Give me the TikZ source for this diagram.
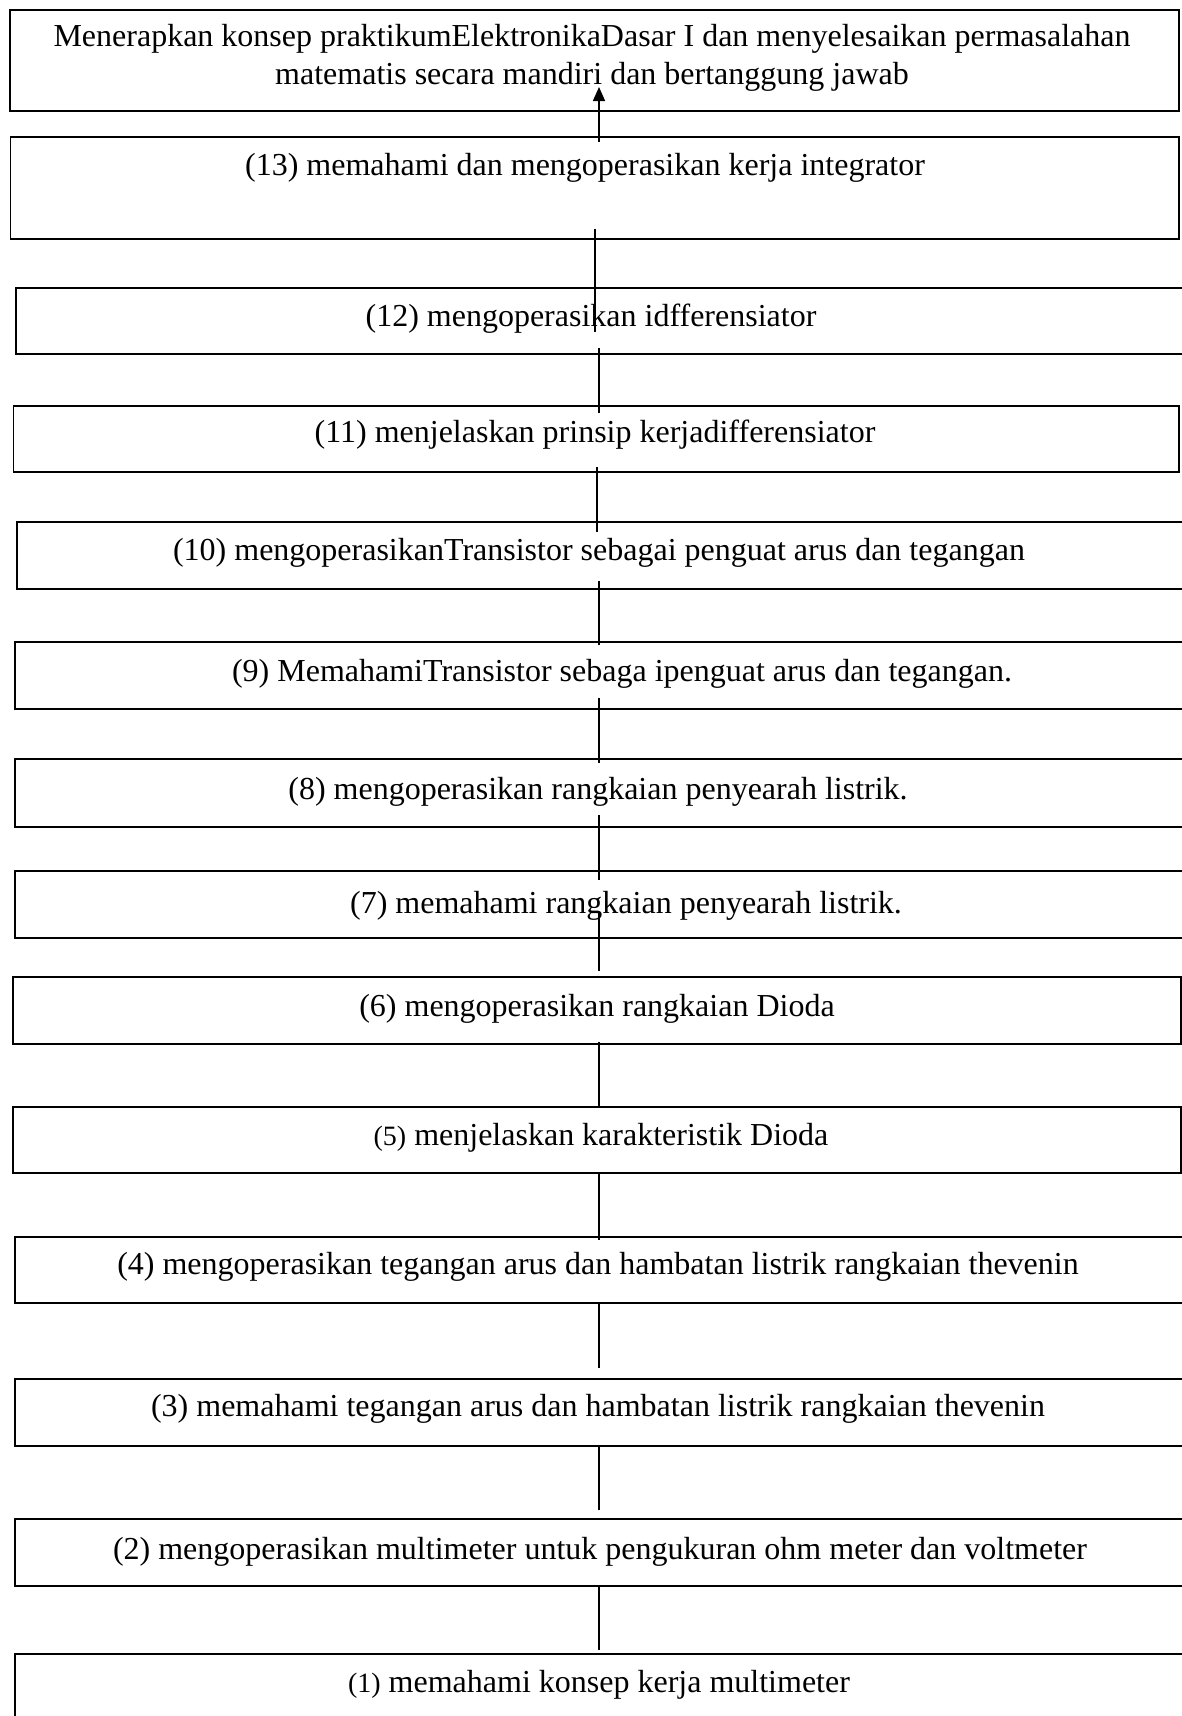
\documentclass[tikz,border=0pt]{standalone}
\usepackage{fontspec}
\setmainfont{Liberation Serif}
\usetikzlibrary{arrows.meta}
\begin{document}
\begin{tikzpicture}[x=1pt,y=-1pt,
  box/.style={draw, line width=1.8pt, rectangle, inner sep=0pt, anchor=north west},
  lbl/.style={font=\fontsize{32}{38}\selectfont, inner sep=0pt, anchor=mid},
  conn/.style={line width=1.1pt}]
\useasboundingbox (0,0) rectangle (1182,1716);
\clip (0,0) rectangle (1182,1716);
% boxes
\node[box, line width=2pt, minimum width=1169.5pt, minimum height=101.5pt] (b0) at (8.5,8.5) {};
\node[box, minimum width=1168.5pt, minimum height=102pt] (b13) at (9.5,136) {};
\node[box, minimum width=1200pt, minimum height=66pt] (b12) at (15,287) {};
\node[box, minimum width=1165.5pt, minimum height=66pt] (b11) at (12.5,405) {};
\node[box, minimum width=1200pt, minimum height=67pt] (b10) at (16,521) {};
\node[box, minimum width=1200pt, minimum height=67pt] (b9) at (14,641) {};
\node[box, minimum width=1200pt, minimum height=68pt] (b8) at (14,758) {};
\node[box, minimum width=1200pt, minimum height=67pt] (b7) at (14,870) {};
\node[box, minimum width=1168pt, minimum height=67pt] (b6) at (12,976) {};
\node[box, minimum width=1168pt, minimum height=66pt] (b5) at (12,1106) {};
\node[box, minimum width=1200pt, minimum height=66pt] (b4) at (14,1236) {};
\node[box, minimum width=1200pt, minimum height=67pt] (b3) at (14,1378) {};
\node[box, minimum width=1200pt, minimum height=67pt] (b2) at (14,1518) {};
\node[box, minimum width=1200pt, minimum height=120pt] (b1) at (14,1653) {};
% texts
\node[lbl] (t0a) at (592,44.5) {Menerapkan konsep praktikumElektronikaDasar I dan menyelesaikan permasalahan};
\node[lbl] (t0b) at (592,82.5) {matematis secara mandiri dan bertanggung jawab};
\node[lbl] (t13) at (585,173.5) {(13) memahami dan mengoperasikan kerja integrator};
\node[lbl] (t12) at (591,324.5) {(12) mengoperasikan idfferensiator};
\node[lbl] (t11) at (595,440.5) {(11) menjelaskan prinsip kerjadifferensiator};
\node[lbl] (t10) at (599,558.5) {(10) mengoperasikanTransistor sebagai penguat arus dan tegangan};
\node[lbl] (t9) at (622,679.5) {(9) MemahamiTransistor sebaga ipenguat arus dan tegangan.};
\node[lbl] (t8) at (598,797.5) {(8) mengoperasikan rangkaian penyearah listrik.};
\node[lbl] (t7) at (626,911.5) {(7) memahami rangkaian penyearah listrik.};
\node[lbl] (t6) at (597,1014.5) {(6) mengoperasikan rangkaian Dioda};
\node[lbl] (t5) at (601,1143.5) {{\fontsize{28}{34}\selectfont (5)} menjelaskan karakteristik Dioda};
\node[lbl] (t4) at (598,1272.5) {(4) mengoperasikan tegangan arus dan hambatan listrik rangkaian thevenin};
\node[lbl] (t3) at (598,1414.5) {(3) memahami tegangan arus dan hambatan listrik rangkaian thevenin};
\node[lbl] (t2) at (600,1557.5) {(2) mengoperasikan multimeter untuk pengukuran ohm meter dan voltmeter};
\node[lbl] (t1) at (599,1690.5) {{\fontsize{28}{34}\selectfont (1)} memahami konsep kerja multimeter};
% connector end points
\coordinate (a13) at (599,142); \coordinate (a0) at (599,87);
\coordinate (c13) at (595,229); \coordinate (c12a) at (595,332);
\coordinate (c12) at (599,348); \coordinate (c11a) at (599,413);
\coordinate (c11) at (597,467); \coordinate (c10a) at (597,532);
\coordinate (c10) at (599,581); \coordinate (c9a) at (599,645);
\coordinate (c9) at (599,698); \coordinate (c8a) at (599,763);
\coordinate (c8) at (599,815); \coordinate (c7a) at (599,880);
\coordinate (c7) at (599,913); \coordinate (c6a) at (599,971);
\coordinate (c6) at (599,1042); \coordinate (c5a) at (599,1108);
\coordinate (c5) at (599,1173); \coordinate (c4a) at (599,1240);
\coordinate (c4) at (599,1303); \coordinate (c3a) at (599,1368);
\coordinate (c3) at (599,1445); \coordinate (c2a) at (599,1510);
\coordinate (c2) at (599,1585); \coordinate (c1a) at (599,1650);
% connectors
\draw[conn, line width=1.5pt, -{Triangle[length=14pt,width=12pt]}] (a13) -- (a0);
\draw[conn] (c13) -- (c12a);
\draw[conn] (c12) -- (c11a);
\draw[conn] (c11) -- (c10a);
\draw[conn] (c10) -- (c9a);
\draw[conn] (c9) -- (c8a);
\draw[conn] (c8) -- (c7a);
\draw[conn] (c7) -- (c6a);
\draw[conn] (c6) -- (c5a);
\draw[conn] (c5) -- (c4a);
\draw[conn] (c4) -- (c3a);
\draw[conn] (c3) -- (c2a);
\draw[conn] (c2) -- (c1a);
\end{tikzpicture}
\end{document}
